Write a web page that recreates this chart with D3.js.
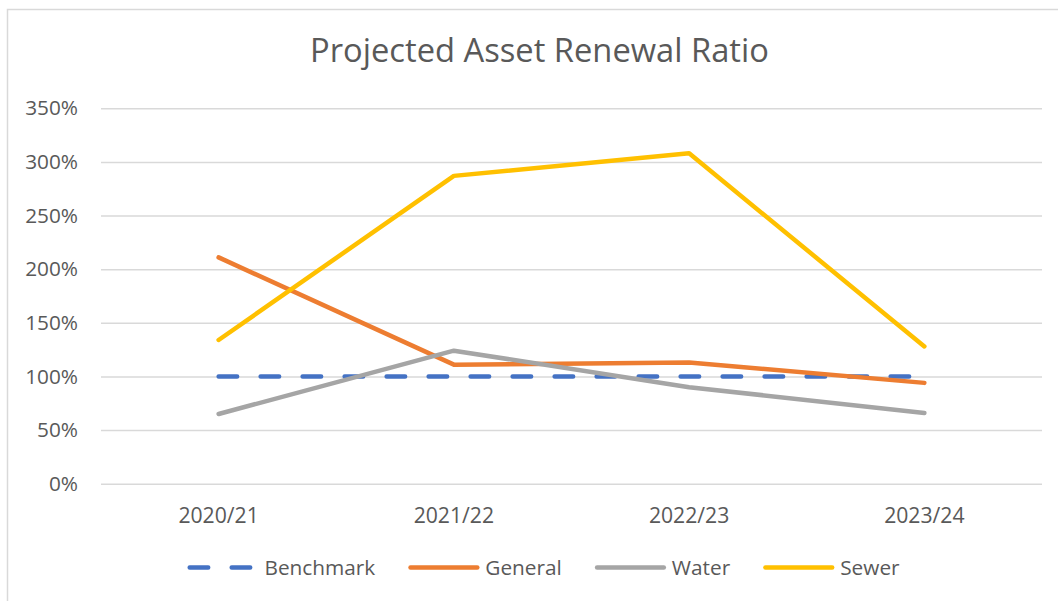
<!DOCTYPE html>
<html>
<head>
<meta charset="utf-8">
<script src="https://cdn.jsdelivr.net/npm/d3@7"></script>
<style>
	body { margin: 0; background: #fff; }
	text { font-family: "Open Sans", sans-serif; fill: #595959; }
</style>
</head>
<body>
<div id="main"></div>
<script>
const years = ["2020/21", "2021/22", "2022/23", "2023/24"];
const benchmark = [1.0, 1.0, 1.0, 1.0];
const general = [2.11, 1.11, 1.13, 0.94];
const water = [0.65, 1.24, 0.9, 0.66];
const sewer = [1.34, 2.87, 3.08, 1.28];
const yTicks = [0, 0.5, 1, 1.5, 2, 2.5, 3, 3.5];

const series = [
	{ name: "Benchmark", values: benchmark, color: "#4472C4", dash: true },
	{ name: "General", values: general, color: "#ED7D31" },
	{ name: "Water", values: water, color: "#A5A5A5" },
	{ name: "Sewer", values: sewer, color: "#FFC000" },
];

const width = 1058,
	height = 601;

const svg = d3
	.select("#main")
	.append("svg")
	.attr("width", width)
	.attr("height", height);

// chart frame, cut off at the right and bottom like the screenshot
svg.append("rect")
	.attr("x", 7.5)
	.attr("y", 9.5)
	.attr("width", 1060)
	.attr("height", 600)
	.style("fill", "#fff")
	.style("stroke", "#D9D9D9")
	.style("stroke-width", 1.5);

svg.append("text")
	.attr("x", 539.5)
	.attr("y", 62)
	.attr("text-anchor", "middle")
	.style("font-size", "32.7px")
	.text("Projected Asset Renewal Ratio");

const x = d3.scaleBand().domain(years).range([101, 1042]).padding(0);
const y = d3.scaleLinear().domain([0, 3.5]).range([483.7, 108.3]);

const yAxis = svg
	.append("g")
	.attr("transform", "translate(101,0)")
	.call(
		d3.axisLeft(y)
			.tickValues(yTicks)
			.tickSize(-941)
			.tickFormat((d) => Math.round(d * 100) + "%")
	);
yAxis.select(".domain").remove();
yAxis.selectAll(".tick line").style("stroke", "#D9D9D9").style("stroke-width", 1.5);
yAxis.selectAll(".tick text")
	.attr("x", -23)
	.style("font-size", "20.8px")
	.style("fill", "#595959");

const xAxis = svg
	.append("g")
	.attr("transform", "translate(0,483.7)")
	.call(d3.axisBottom(x).tickSize(0));
xAxis.select(".domain").remove();
xAxis.selectAll(".tick text")
	.attr("dy", 0)
	.attr("y", 39.5)
	.style("font-size", "21.2px")
	.style("fill", "#595959");

const line = d3
	.line()
	.x((d, i) => x(years[i]) + x.bandwidth() / 2)
	.y((d) => y(d));

series.forEach((s) => {
	svg.append("path")
		.attr("d", line(s.values))
		.style("fill", "none")
		.style("stroke", s.color)
		.style("stroke-width", 4.5)
		.style("stroke-linecap", "round")
		.style("stroke-linejoin", "round")
		.style("stroke-dasharray", s.dash ? "18.5,23.5" : null);
});

// legend
const legend = svg.append("g").classed("legend", true);
let acc = 0;
series.forEach((s) => {
	const g = legend.append("g");
	g.append("path")
		.attr("d", `M${acc + 2.25},0 L${acc + 69},0`)
		.style("stroke", s.color)
		.style("stroke-width", 4.5)
		.style("stroke-linecap", "round")
		.style("stroke-dasharray", s.dash ? "18.5,23.5" : null);
	const t = g.append("text")
		.attr("x", acc + 77)
		.attr("y", 7.5)
		.style("font-size", "20.8px")
		.text(s.name);
	acc += 77 + t.node().getComputedTextLength() + 33;
});
const total = acc - 33;
legend.attr("transform", `translate(${543.5 - total / 2},567.5)`);
</script>
</body>
</html>
